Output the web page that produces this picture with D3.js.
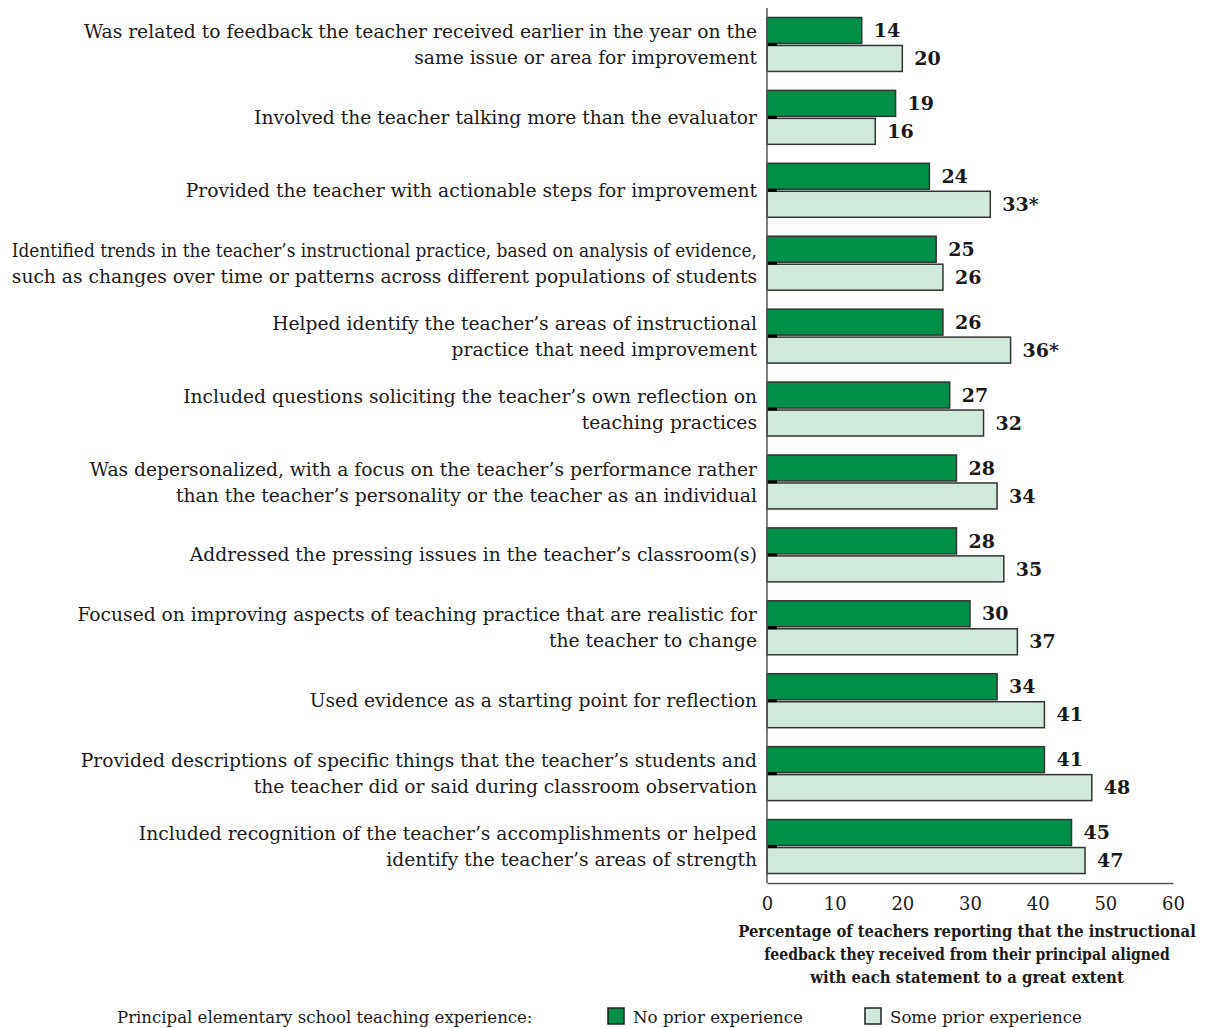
<!DOCTYPE html>
<html>
<head>
<meta charset="utf-8">
<script src="https://cdn.jsdelivr.net/npm/d3@7"></script>
<style>
body{margin:0;background:#fff;}
text{font-family:"DejaVu Serif","Liberation Serif",serif;fill:#1a1a1a;}
</style>
</head>
<body>
<svg id="chart"></svg>
<script>
var categories = [
  ["Was related to feedback the teacher received earlier in the year on the","same issue or area for improvement"],
  ["Involved the teacher talking more than the evaluator"],
  ["Provided the teacher with actionable steps for improvement"],
  ["Identified trends in the teacher\u2019s instructional practice, based on analysis of evidence,","such as changes over time or patterns across different populations of students"],
  ["Helped identify the teacher\u2019s areas of instructional","practice that need improvement"],
  ["Included questions soliciting the teacher\u2019s own reflection on","teaching practices"],
  ["Was depersonalized, with a focus on the teacher\u2019s performance rather","than the teacher\u2019s personality or the teacher as an individual"],
  ["Addressed the pressing issues in the teacher\u2019s classroom(s)"],
  ["Focused on improving aspects of teaching practice that are realistic for","the teacher to change"],
  ["Used evidence as a starting point for reflection"],
  ["Provided descriptions of specific things that the teacher\u2019s students and","the teacher did or said during classroom observation"],
  ["Included recognition of the teacher\u2019s accomplishments or helped","identify the teacher\u2019s areas of strength"]
];
var noPrior = [14,19,24,25,26,27,28,28,30,34,41,45];
var somePrior = [20,16,33,26,36,32,34,35,37,41,48,47];
var significant = [false,false,true,false,true,false,false,false,false,false,false,false];
var xTicks = [0,10,20,30,40,50,60];
var seriesNames = ["No prior experience","Some prior experience"];
var colors = ["#008f47","#cfeadb"];

var width = 1205, height = 1028;
var svg = d3.select("#chart").attr("width",width).attr("height",height);

// draw one line of text at (x,y), squeezed horizontally if wider than maxW
function line(parent, txt, px, py, anchor, size, bold, maxW){
  var t = parent.append("text").attr("text-anchor",anchor)
    .style("font-size",size+"px").style("font-weight",bold?"bold":"normal")
    .attr("dy","0.35em").text(txt);
  var w = t.node().getComputedTextLength();
  var s = w > maxW ? maxW/w : 1;
  t.attr("transform","translate("+px+","+py+") scale("+s+",1)");
  return t;
}

var x = d3.scaleLinear().domain([0,60]).range([767,1173]);
var y = d3.scaleBand().domain(d3.range(categories.length)).range([8,883])
  .paddingInner(0.26).paddingOuter(0.13);
var barH = (y.bandwidth()-2)/2;

var g = svg.append("g");
categories.forEach(function(c,i){
  var gi = g.append("g");
  var vals = [noPrior[i], somePrior[i]];
  vals.forEach(function(v,j){
    var yy = y(i) + j*(barH+2);
    gi.append("rect")
      .attr("x",x(0)).attr("y",yy)
      .attr("width",x(v)-x(0)).attr("height",barH)
      .attr("fill",colors[j]).attr("stroke","#333").attr("stroke-width",1.5);
    gi.append("text")
      .attr("x",x(v)+12).attr("y",yy+barH/2)
      .attr("dy","0.35em")
      .style("font-size","19px").style("font-weight","bold")
      .text(v + (j==1 && significant[i] ? "*" : ""));
  });
  // little tick between bars
  gi.append("line").attr("x1",x(0)).attr("x2",x(0)+10)
    .attr("y1",y(i)+barH+1).attr("y2",y(i)+barH+1)
    .attr("stroke","#000").attr("stroke-width",3);
  // category label
  var cy = y(i) + y.bandwidth()/2;
  var lh = 26;
  c.forEach(function(l,k){
    line(gi, l, 757, cy + (k-(c.length-1)/2)*lh, "end", 18.7, false, 745);
  });
});

// axes
svg.append("line").attr("x1",x(0)).attr("x2",x(0)).attr("y1",8).attr("y2",883)
  .attr("stroke","#555").attr("stroke-width",1.5);
var xAxis = d3.axisBottom(x).tickValues(xTicks).tickSize(0).tickPadding(14);
var ax = svg.append("g").attr("transform","translate(0,883)").call(xAxis);
ax.select(".domain").attr("stroke","#555").attr("stroke-width",1.5);
ax.selectAll("text").style("font-family","\"DejaVu Serif\",serif").style("font-size","18px").attr("fill","#1a1a1a");

var title = ["Percentage of teachers reporting that the instructional","feedback they received from their principal aligned","with each statement to a great extent"];
var titleW = [458,406,314];
title.forEach(function(l,k){
  line(svg, l, 967, 931+k*23, "middle", 17, true, titleW[k]);
});

// legend
line(svg, "Principal elementary school teaching experience:", 117, 1017, "start", 17, false, 416);
var legX = [608,865];
var legW = [170,192];
seriesNames.forEach(function(s,j){
  svg.append("rect").attr("x",legX[j]).attr("y",1008).attr("width",16).attr("height",16)
    .attr("fill",colors[j]).attr("stroke","#222").attr("stroke-width",1.5);
  line(svg, s, legX[j]+25, 1017, "start", 17, false, legW[j]);
});
</script>
</body>
</html>
